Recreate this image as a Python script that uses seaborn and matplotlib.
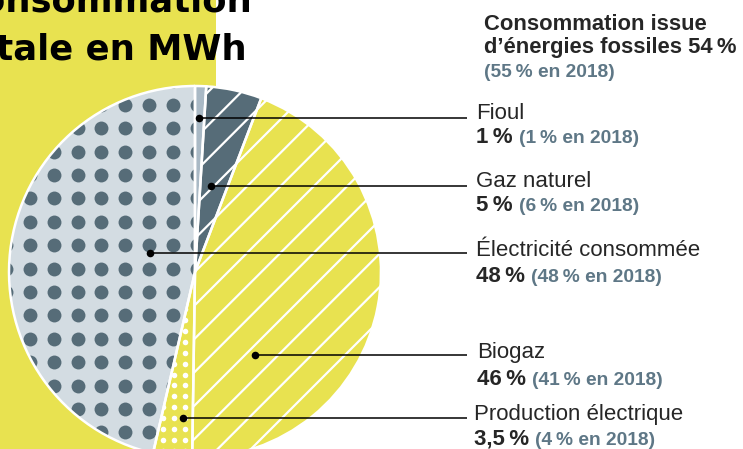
import numpy as np
import matplotlib
matplotlib.use('Agg')
import matplotlib.pyplot as plt
import seaborn as sns
from matplotlib.patches import Rectangle

# chart data, clockwise from the top of the pie
sources = ['Fioul', 'Gaz naturel', 'Biogaz', 'Production électrique', 'Électricité consommée']
shares = [1, 5, 46, 3.5, 48]
shares_2018 = [1, 6, 41, 4, 48]
fossil_share = 54
fossil_share_2018 = 55

# order of the labels down the right side
label_order = ['Fioul', 'Gaz naturel', 'Électricité consommée', 'Biogaz', 'Production électrique']

YELLOW = '#E8E250'
SLATE = '#566C78'
LIGHT_SLATE = '#A9B9C5'
LIGHT_GREY = '#D3DCE2'
GREY_TXT = '#5E7786'

W, H = 743, 449
NSP = '\u202f'


def pct(v):
    return f'{v:g}'.replace('.', ',') + NSP + '%'


sns.set_theme(style='white')
plt.rcParams['font.family'] = ['Liberation Sans', 'DejaVu Sans']
plt.rcParams['hatch.linewidth'] = 1.6

fig = plt.figure(figsize=(W / 100, H / 100), dpi=100)
ax = fig.add_axes([0, 0, 1, 1])
ax.set_xlim(0, W)
ax.set_ylim(0, H)
ax.set_axis_off()

# yellow block behind the title
ax.add_patch(Rectangle((0, 0), 216, H, color=YELLOW, zorder=0, lw=0))

cx, cy, R = 195, H - 272, 186
fills = {'Fioul': LIGHT_SLATE, 'Gaz naturel': SLATE, 'Biogaz': YELLOW,
         'Production électrique': YELLOW, 'Électricité consommée': LIGHT_GREY}
hatches = {'Gaz naturel': '/', 'Biogaz': '/'}

wedges, _ = ax.pie(shares, colors=[fills[s] for s in sources], startangle=90,
                   counterclock=False, center=(cx, cy), radius=R, frame=True,
                   wedgeprops=dict(edgecolor='white', linewidth=0))
for w, s in zip(wedges, sources):
    w.set_zorder(1)
    if s in hatches:
        w.set_hatch(hatches[s])
        w.set_edgecolor('white')


def dot_fill(wedge, sx, sy, x0, y0, size, color):
    xs = np.arange(x0 - sx * 20, x0 + sx * 20, sx)
    ys = np.arange(y0 - sy * 20, y0 + sy * 20, sy)
    gx, gy = np.meshgrid(xs, ys)
    sc = ax.scatter(gx.ravel(), H - gy.ravel(), s=size, color=color,
                    linewidths=0, zorder=2)
    sc.set_clip_path(wedge)


dot_fill(wedges[sources.index('Électricité consommée')], 23.8, 23.4, 30, 175, 100, SLATE)
dot_fill(wedges[sources.index('Production électrique')], 10.9, 10.9, 185, 320, 16, 'white')

# white outlines on top of the dot textures
outl, _ = ax.pie(shares, colors=['none'] * len(shares), startangle=90,
                 counterclock=False, center=(cx, cy), radius=R, frame=True,
                 wedgeprops=dict(edgecolor='white', linewidth=1.8, fill=False))
for w in outl:
    w.set_zorder(3)
ax.set_xlim(0, W)
ax.set_ylim(0, H)

# title (cut by the left edge like the original)
title_kw = dict(fontsize=25.5, fontweight='bold', color='black', va='baseline',
                family=['DejaVu Sans'])
ax.text(-45, H - 12, 'Consommation', **title_kw)
ax.text(-45, H - 59, 'totale en MWh', **title_kw)

# header on the right
ax.text(484, H - 30, 'Consommation issue', fontsize=15.8, fontweight='bold', va='baseline')
ax.text(484, H - 53, f'd’énergies fossiles {fossil_share}{NSP}%', fontsize=15.8,
        fontweight='bold', va='baseline')
ax.text(484, H - 77, f'({fossil_share_2018}{NSP}% en 2018)', fontsize=13.8,
        fontweight='bold', color=GREY_TXT, va='baseline')

# labels, leader lines
label_x = [476, 476, 476, 477, 474]
name_base = [119, 187, 256, 358, 420]
pct_base = [143, 211, 282, 385, 445]
line_y = [118, 186, 253, 355, 418]
dot_x = [199, 211, 150, 255, 183]

renderer = fig.canvas.get_renderer()
for i, name in enumerate(label_order):
    k = sources.index(name)
    ax.text(label_x[i], H - name_base[i], name, fontsize=16, va='baseline')
    t = ax.text(label_x[i], H - pct_base[i], pct(shares[k]), fontsize=16,
                fontweight='bold', va='baseline')
    x_end = t.get_window_extent(renderer).x1
    ax.text(x_end + 6, H - pct_base[i], f'({pct(shares_2018[k])} en 2018)',
            fontsize=13.8, fontweight='bold', color=GREY_TXT, va='baseline')
    ax.plot([dot_x[i], 467], [H - line_y[i]] * 2, color='black', lw=1.1,
            zorder=4, solid_capstyle='butt')
    ax.scatter([dot_x[i]], [H - line_y[i]], s=30, color='black', zorder=5,
               linewidths=0)

fig.savefig('out.png', dpi=100)
